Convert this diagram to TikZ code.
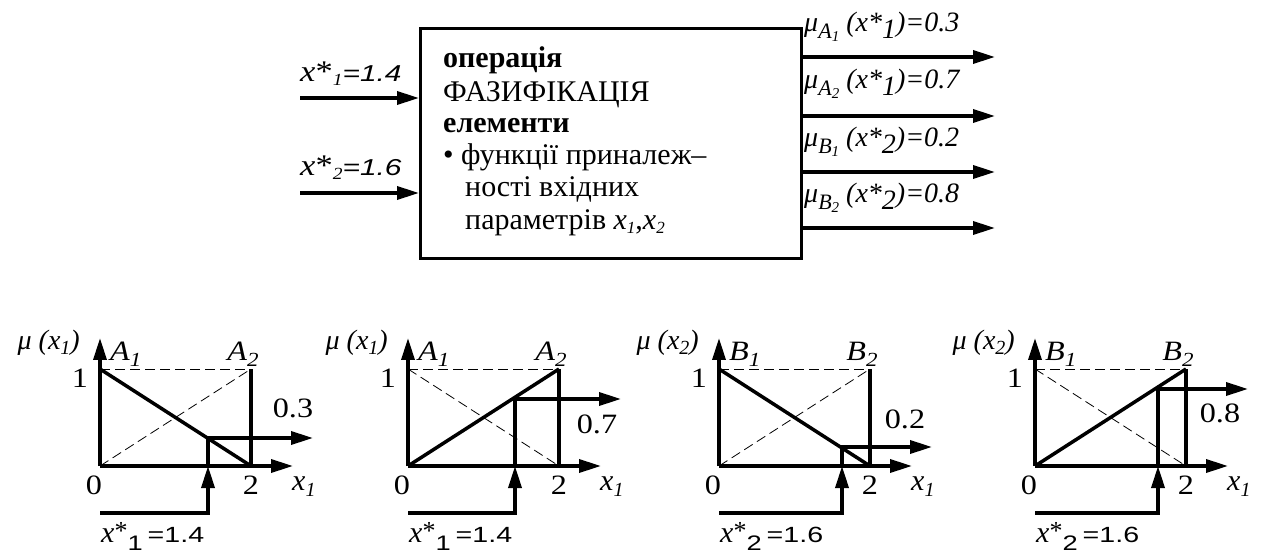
\documentclass[tikz,border=0pt]{standalone}
\usepackage{fontspec}
\setmainfont{Liberation Serif}
\newfontfamily\arial{Liberation Sans}[FakeStretch=1.3]
\newfontfamily\wserif{Liberation Serif}[FakeStretch=1.15]
\usetikzlibrary{arrows.meta}
\newcommand\fsz[1]{\fontsize{#1}{#1}\selectfont}
\newcommand\lowsub[2]{\raisebox{-#1pt}{#2}}
\begin{document}
\begin{tikzpicture}[x=1pt,y=-1pt,
  thickln/.style={line width=3.5pt},
  arr/.style={line width=3.5pt,-{Triangle[length=22pt,width=13pt]}},
  thinds/.style={line width=0.8pt,dash pattern=on 10pt off 5pt},
  lbl/.style={inner sep=0pt,anchor=base,font=\wserif\fsz{28}},
  boxtxt/.style={inner sep=0pt,anchor=base west,font=\fsz{30}}]
\useasboundingbox (0,0) rectangle (1264,553);
% block
\node[draw,line width=3pt,minimum width=381pt,minimum height=230pt,anchor=north west,inner sep=0pt] (box) at (419,27) {};
\node[boxtxt] (t1) at (443,68) {\textbf{операція}};
\node[boxtxt] (t2) at (443,102) {ФАЗИФІКАЦІЯ};
\node[boxtxt] (t3) at (443,133) {\textbf{елементи}};
\node[boxtxt] (t4) at (443,165) {• функції приналеж–};
\node[boxtxt] (t5) at (465,197) {ності вхідних};
\node[boxtxt] (t6) at (465,230) {параметрів \textit{x}\lowsub{4}{\fsz{17}\textit{1}},\textit{x}\lowsub{4}{\fsz{17}\textit{2}}};
% inputs
\coordinate (in1) at (300,98);
\coordinate (in2) at (300,193);
\draw[arr] (in1) -- (box.west |- in1);
\draw[arr] (in2) -- (box.west |- in2);
\node[lbl,anchor=base west] (li1) at (300,82) {\fsz{30}\textit{x}*\lowsub{4}{\fsz{17}\textit{1}}{\arial\itshape\fsz{23}=1.4}};
\node[lbl,anchor=base west] (li2) at (300,176) {\fsz{30}\textit{x}*\lowsub{4}{\fsz{17}\textit{2}}{\arial\itshape\fsz{23}=1.6}};
% outputs
\foreach \i/\y/\by/\S/\s/\k/\v in {1/57/32/A/1/1/0.3, 2/116/89/A/2/1/0.7, 3/172/147/B/1/2/0.2, 4/228/203/B/2/2/0.8}{
  \coordinate (o\i) at (995,\y);
  \draw[arr] (box.east |- o\i) -- (o\i);
  \node[lbl,anchor=base west,font=\rmfamily\fsz{28}] (lo\i) at (804,\by) {\textit{μ}\lowsub{7}{\fsz{22}\textit{\S}\lowsub{3}{\fsz{15}\textit{\s}}}\ \textit{(x*}\lowsub{7}{\textit{\k}}\textit{)=\v}};
}
% charts
\foreach \n/\ox/\ya/\yb/\xs/\ym/\val/\vx/\vy/\k/\S/\xv in {
  1/100/369/466/108/438/0.3/193/417/1/A/1.4,
  2/408/466/369/107/399/0.7/189/433/1/A/1.4,
  3/719/369/466/123/447/0.2/186/428/2/B/1.6,
  4/1035/466/369/123/389/0.8/185/422/2/B/1.6}{
  \begin{scope}[xshift=\ox pt]
    \coordinate (org\n) at (0,466);
    \coordinate (yt\n) at (0,338);
    \coordinate (xe\n) at (193,466);
    \coordinate (one\n) at (0,369);
    \coordinate (two\n) at (151,466);
    \coordinate (tw1\n) at (151,369);
    \coordinate (ls\n) at (0,\ya);
    \coordinate (le\n) at (151,\yb);
    \coordinate (ds\n) at (0,\yb);
    \coordinate (de\n) at (151,\ya);
    \coordinate (ib\n) at (0,513);
    \coordinate (ic\n) at (\xs,513);
    \coordinate (ix\n) at (\xs,466);
    \coordinate (im\n) at (\xs,\ym);
    \coordinate (oe\n) at (213,\ym);
    \draw[thinds] (one\n) -- (tw1\n);
    \draw[thinds] (ds\n) -- (de\n);
    \draw[arr] (org\n) -- (yt\n);
    \draw[arr] (org\n) -- (xe\n);
    \draw[thickln] (tw1\n) -- (two\n);
    \draw[thickln] (ls\n) -- (le\n);
    \draw[arr] (ib\n) -- (ic\n) -- (ix\n);
    \draw[arr] (ix\n) -- (im\n) -- (oe\n);
    \node[lbl,anchor=base east,font=\rmfamily\fsz{28}] (mu\n) at (-20,350) {\textit{μ} \textit{(x}\lowsub{5}{\fsz{20}\textit{\k}}\textit{)}};
    \node[lbl,anchor=base west] (sa\n) at (10,360) {\textit{\S}\lowsub{6}{\fsz{20}\textit{1}}};
    \node[lbl] (sb\n) at (143,360) {\textit{\S}\lowsub{6}{\fsz{20}\textit{2}}};
    \node[lbl] (l1\n) at (-20,387) {1};
    \node[lbl] (l0\n) at (-6,494) {0};
    \node[lbl] (l2\n) at (151,494) {2};
    \node[lbl,anchor=base west,font=\rmfamily\fsz{30}] (lx\n) at (192,490) {\textit{x}\lowsub{6}{\fsz{20}\textit{1}}};
    \node[lbl] (val\n) at (\vx,\vy) {\val};
    \node[lbl,anchor=base west,font=\rmfamily] (xin\n) at (1,542) {\fsz{30}\textit{x}\raisebox{3pt}{\fsz{26}*}\lowsub{8}{\arial\fsz{21}\k}\,{\arial\fsz{22}=\xv}};
  \end{scope}
}
\end{tikzpicture}
\end{document}
